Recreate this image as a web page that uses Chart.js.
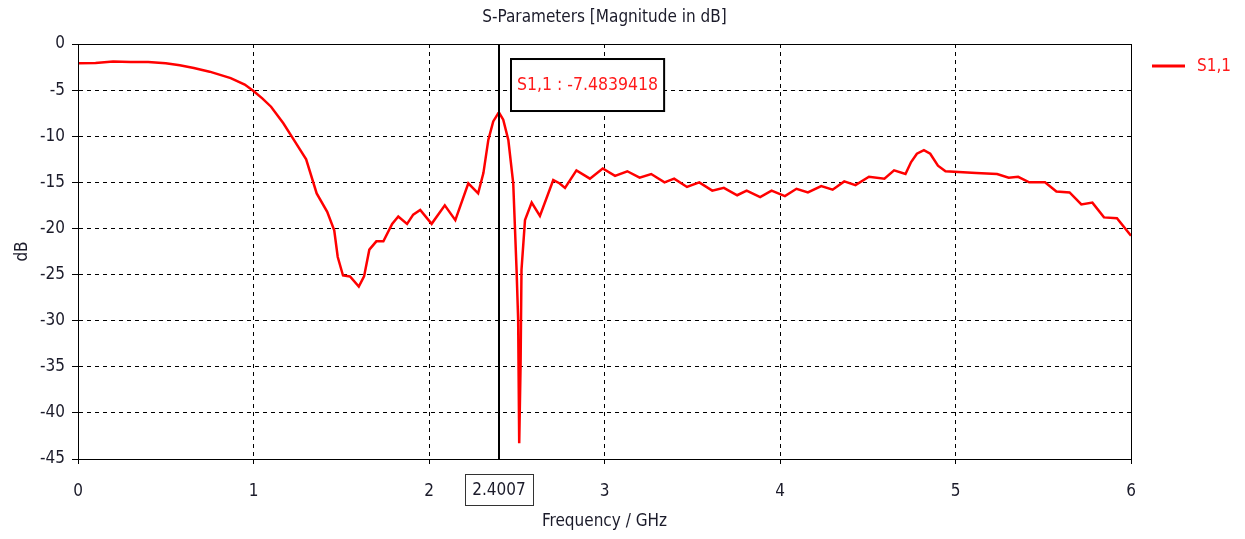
<!DOCTYPE html>
<html>
<head>
<meta charset="utf-8">
<title>S-Parameters</title>
<script src="https://cdn.jsdelivr.net/npm/chart.js@4/dist/chart.umd.min.js"></script>
<style>
    html, body { margin: 0; padding: 0; background: #fff; }
    #chartCanvas { display: block; }
</style>
</head>
<body>
<canvas id="chartCanvas" width="1245" height="539"></canvas>
<script>
// ============================================
// DATA - S1,1 magnitude vs frequency
// ============================================

const freqGHz = [
    0, 0.1, 0.2, 0.3, 0.4, 0.5, 0.58, 0.66, 0.75, 0.87, 0.95, 1.0, 1.05, 1.1, 1.17, 1.23,
    1.3, 1.36, 1.42, 1.46, 1.48, 1.51, 1.55, 1.6, 1.63, 1.66, 1.7, 1.74, 1.79, 1.825, 1.875,
    1.91, 1.95, 2.015, 2.09, 2.15, 2.224, 2.28, 2.31, 2.338, 2.366, 2.395, 2.4007, 2.423, 2.452,
    2.48, 2.499, 2.508, 2.514, 2.522, 2.527, 2.547, 2.585, 2.632, 2.708, 2.743, 2.775, 2.84,
    2.917, 2.99, 3.06, 3.13, 3.2, 3.266, 3.342, 3.397, 3.47, 3.54, 3.614, 3.68, 3.756, 3.81,
    3.887, 3.952, 4.028, 4.094, 4.159, 4.235, 4.3, 4.366, 4.43, 4.507, 4.595, 4.65, 4.715,
    4.747, 4.78, 4.82, 4.856, 4.9, 4.943, 5.118, 5.237, 5.303, 5.357, 5.42, 5.51, 5.575,
    5.65, 5.717, 5.78, 5.846, 5.92, 6.0
];

const s11dB = [
    -2.1, -2.05, -1.9, -1.95, -1.95, -2.1, -2.3, -2.6, -3.0, -3.7, -4.4, -5.1, -5.9, -6.8, -8.6, -10.4,
    -12.5, -16.2, -18.2, -20.2, -23.1, -25.1, -25.2, -26.3, -25.2, -22.3, -21.4, -21.4, -19.5, -18.7, -19.5,
    -18.5, -18.0, -19.5, -17.5, -19.1, -15.1, -16.2, -14.0, -10.4, -8.4, -7.5, -7.4839418, -8.2, -10.4,
    -15.1, -24.5, -29.9, -43.3, -34.6, -24.5, -19.1, -17.2, -18.65, -14.75, -15.1, -15.6, -13.7,
    -14.6, -13.5, -14.3, -13.8, -14.5, -14.1, -15.0, -14.6, -15.5, -15.0, -15.9, -15.6, -16.4, -15.9,
    -16.6, -15.9, -16.5, -15.7, -16.1, -15.4, -15.8, -14.9, -15.3, -14.4, -14.6, -13.7, -14.1,
    -12.8, -11.9, -11.5, -11.9, -13.2, -13.8, -14.0, -14.1, -14.5, -14.4, -15.0, -15.0, -16.0,
    -16.1, -17.4, -17.2, -18.8, -18.9, -20.8
];

const xTicks = [0, 1, 2, 3, 4, 5, 6];
const yTicks = [0, -5, -10, -15, -20, -25, -30, -35, -40, -45];

const markerFreq = 2.4007;
const markerValue = -7.4839418;
const seriesName = 'S1,1';

const FONT = '"Liberation Sans Narrow", "DejaVu Sans Condensed", "Liberation Sans", sans-serif';
const TEXT_COLOR = '#1b1b2a';

// ============================================
// PLUGIN - frame, title, legend, marker
// ============================================

const decorPlugin = {
    id: 'decor',
    afterDatasetsDraw(chart) {
        const ctx = chart.ctx;
        const area = chart.chartArea;
        const xs = chart.scales.x;
        const ys = chart.scales.y;

        ctx.save();

        // plot frame
        ctx.strokeStyle = '#000';
        ctx.lineWidth = 1;
        ctx.setLineDash([]);
        ctx.strokeRect(area.left + 0.5, area.top + 0.5, area.right - area.left, area.bottom - area.top);

        // marker line
        const mx = Math.round(xs.getPixelForValue(markerFreq));
        ctx.lineWidth = 2;
        ctx.beginPath();
        ctx.moveTo(mx, area.top);
        ctx.lineTo(mx, area.bottom);
        ctx.stroke();

        // marker value box
        const my = ys.getPixelForValue(markerValue);
        ctx.font = '17.5px ' + FONT;
        const label = seriesName + ' : ' + markerValue.toFixed(7);
        const tw = ctx.measureText(label).width;
        const bx = mx + 12;
        const by = my - 54;
        const bw = Math.max(tw + 12, 150);
        const bh = 52;
        ctx.fillStyle = '#fff';
        ctx.fillRect(bx, by, bw, bh);
        ctx.strokeStyle = '#000';
        ctx.lineWidth = 2;
        ctx.strokeRect(bx, by, bw, bh);
        ctx.fillStyle = '#ff1a1a';
        ctx.textAlign = 'center';
        ctx.textBaseline = 'middle';
        ctx.fillText(label, bx + bw / 2, by + bh / 2);

        // marker frequency box on the x axis
        ctx.font = '17px ' + FONT;
        const fl = markerFreq.toFixed(4);
        const fw = Math.max(ctx.measureText(fl).width + 12, 68);
        ctx.fillStyle = '#fff';
        ctx.fillRect(mx - fw / 2, area.bottom + 15, fw, 31);
        ctx.strokeStyle = '#333';
        ctx.lineWidth = 1;
        ctx.strokeRect(Math.round(mx - fw / 2) + 0.5, area.bottom + 15.5, Math.round(fw), 31);
        ctx.fillStyle = TEXT_COLOR;
        ctx.textAlign = 'center';
        ctx.fillText(fl, mx, area.bottom + 32);

        // title
        ctx.font = '17px ' + FONT;
        ctx.fillStyle = TEXT_COLOR;
        ctx.textAlign = 'center';
        ctx.fillText('S-Parameters [Magnitude in dB]', (area.left + area.right) / 2, 18);

        // legend
        const ly = area.top + 22;
        ctx.strokeStyle = '#ff0000';
        ctx.lineWidth = 3;
        ctx.beginPath();
        ctx.moveTo(area.right + 21, ly);
        ctx.lineTo(area.right + 54, ly);
        ctx.stroke();
        ctx.font = '17px ' + FONT;
        ctx.fillStyle = '#ff1a1a';
        ctx.textAlign = 'left';
        ctx.fillText(chart.data.datasets[0].label, area.right + 66, ly + 1);

        ctx.restore();
    }
};

// ============================================
// CHART
// ============================================

const canvas = document.getElementById('chartCanvas');
const ctx = canvas.getContext('2d');

const points = freqGHz.map(function(f, i) {
    return { x: f, y: s11dB[i] };
});

new Chart(ctx, {
    type: 'line',
    data: {
        datasets: [{
            label: seriesName,
            data: points,
            borderColor: '#ff0000',
            borderWidth: 2.5,
            pointRadius: 0,
            tension: 0,
            fill: false
        }]
    },
    options: {
        responsive: false,
        animation: false,
        layout: { padding: { left: 0, top: 44, right: 114, bottom: 0 } },
        plugins: {
            legend: { display: false },
            title: { display: false },
            tooltip: { enabled: false }
        },
        scales: {
            x: {
                type: 'linear',
                min: 0,
                max: 6,
                afterBuildTicks: function(scale) {
                    scale.ticks = xTicks.map(function(v) { return { value: v }; });
                },
                afterFit: function(scale) { scale.height = 80; },
                ticks: {
                    color: TEXT_COLOR,
                    font: { family: FONT, size: 17 },
                    padding: 17,
                    maxRotation: 0
                },
                grid: {
                    color: '#000',
                    lineWidth: 1,
                    tickLength: 5,
                    tickColor: '#000'
                },
                border: { color: '#000', width: 1, dash: [4, 4] },
                title: {
                    display: true,
                    text: 'Frequency / GHz',
                    color: TEXT_COLOR,
                    font: { family: FONT, size: 17 },
                    padding: { top: 4, bottom: 7 }
                }
            },
            y: {
                type: 'linear',
                min: -45,
                max: 0,
                afterBuildTicks: function(scale) {
                    scale.ticks = yTicks.map(function(v) { return { value: v }; });
                },
                afterFit: function(scale) { scale.width = 78; },
                ticks: {
                    color: TEXT_COLOR,
                    font: { family: FONT, size: 17 },
                    padding: 7
                },
                grid: {
                    color: '#000',
                    lineWidth: 1,
                    tickLength: 6,
                    tickColor: '#000'
                },
                border: { color: '#000', width: 1, dash: [4, 4] },
                title: {
                    display: true,
                    text: 'dB',
                    color: TEXT_COLOR,
                    font: { family: FONT, size: 17 },
                    padding: { top: 12, bottom: 4 }
                }
            }
        }
    },
    plugins: [decorPlugin]
});
</script>
</body>
</html>
